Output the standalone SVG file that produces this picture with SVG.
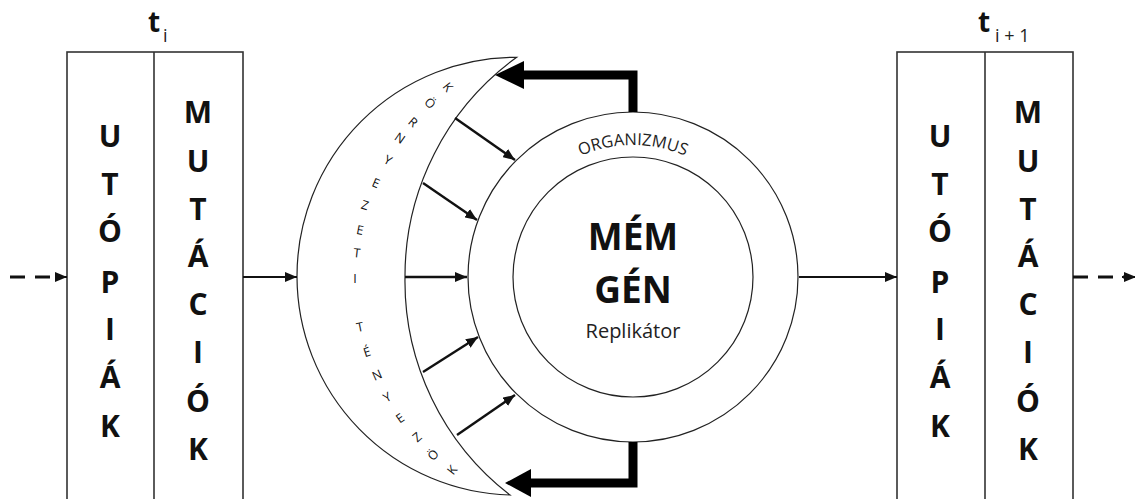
<svg xmlns="http://www.w3.org/2000/svg" width="1135" height="499" viewBox="0 0 1135 499">
<style>
.box{fill:none;stroke:#333;stroke-width:1.6}
.thin{fill:none;stroke:#222;stroke-width:1.2}
.big{font-family:"Open Sans","Liberation Sans",sans-serif;font-weight:bold;font-size:30px;fill:#111;text-anchor:middle}
.cres{font-family:"Open Sans","Liberation Sans",sans-serif;font-size:12.5px;fill:#111;text-anchor:middle;dominant-baseline:central}
.conn{fill:none;stroke:#111;stroke-width:2}
.rad{fill:none;stroke:#111;stroke-width:2.4}
.dash{fill:none;stroke:#111;stroke-width:3;stroke-dasharray:15 10}
.thick{fill:none;stroke:#000;stroke-width:9}
.head{fill:#000}
</style>
<defs>
<marker id="arr" markerUnits="userSpaceOnUse" markerWidth="12" markerHeight="10" refX="12" refY="5" orient="auto">
<path d="M0,0 L12,5 L0,10 z" fill="#111"/>
</marker>
</defs>

<g id="label-ti">
<text x="148" y="32" font-family="Open Sans, Liberation Sans, sans-serif" font-weight="bold" font-size="28" fill="#111">t</text>
<text x="163" y="42" font-family="Open Sans, Liberation Sans, sans-serif" font-size="18" fill="#222">i</text>
</g>
<g id="label-ti1">
<text x="978" y="32" font-family="Open Sans, Liberation Sans, sans-serif" font-weight="bold" font-size="28" fill="#111">t</text>
<text x="995" y="42" font-family="Open Sans, Liberation Sans, sans-serif" font-size="18" fill="#222">i + 1</text>
</g>

<g id="box-left">
<rect class="box" x="67" y="52" width="176" height="470"/>
<line class="box" x1="154" y1="52" x2="154" y2="499"/>
<g class="big">
<text x="110" y="147">U</text>
<text x="110" y="195">T</text>
<text x="110" y="242">Ó</text>
<text x="110" y="293">P</text>
<text x="110" y="340">I</text>
<text x="110" y="388">Á</text>
<text x="110" y="437">K</text>
<text x="198" y="123">M</text>
<text x="198" y="172">U</text>
<text x="198" y="220">T</text>
<text x="198" y="267">Á</text>
<text x="198" y="315">C</text>
<text x="198" y="363">I</text>
<text x="198" y="412">Ó</text>
<text x="198" y="460">K</text>
</g>
</g>

<g id="box-right">
<rect class="box" x="897" y="52" width="176" height="470"/>
<line class="box" x1="985" y1="52" x2="985" y2="499"/>
<g class="big">
<text x="940" y="147">U</text>
<text x="940" y="195">T</text>
<text x="940" y="242">Ó</text>
<text x="940" y="293">P</text>
<text x="940" y="340">I</text>
<text x="940" y="388">Á</text>
<text x="940" y="437">K</text>
<text x="1028" y="123">M</text>
<text x="1028" y="172">U</text>
<text x="1028" y="220">T</text>
<text x="1028" y="267">Á</text>
<text x="1028" y="315">C</text>
<text x="1028" y="363">I</text>
<text x="1028" y="412">Ó</text>
<text x="1028" y="460">K</text>
</g>
</g>

<g id="crescent">
<path class="thin" d="M516.7,57.3 A219,219 0 0 0 297,277 A219,219 0 0 0 510,495 A270,270 0 0 1 405,277 A270,270 0 0 1 516.7,57.3 Z"/>
<g class="cres">
<text transform="translate(448,87) rotate(51.7)">K</text>
<text transform="translate(430,103) rotate(46)">Ö</text>
<text transform="translate(413,122) rotate(40)">R</text>
<text transform="translate(400,138) rotate(35)">N</text>
<text transform="translate(388,160) rotate(29)">Y</text>
<text transform="translate(376,183) rotate(23)">E</text>
<text transform="translate(365,205) rotate(17)">Z</text>
<text transform="translate(360,230) rotate(11)">E</text>
<text transform="translate(357,253) rotate(6)">T</text>
<text transform="translate(355,278) rotate(0)">I</text>
<text transform="translate(360,327) rotate(-11.6)">T</text>
<text transform="translate(367,352) rotate(-17.7)">É</text>
<text transform="translate(377,375) rotate(-23.6)">N</text>
<text transform="translate(387,397) rotate(-29.3)">Y</text>
<text transform="translate(400,418) rotate(-35.1)">E</text>
<text transform="translate(417,437) rotate(-41.1)">Z</text>
<text transform="translate(433,455) rotate(-46.8)">Ö</text>
<text transform="translate(452,470) rotate(-52.6)">K</text>
</g>
</g>

<g id="organizmus">
<circle class="thin" cx="633" cy="277" r="165"/>
<path id="orgpath" d="M501,277 A132,132 0 0 1 765,277" fill="none"/>
<text font-family="Open Sans, Liberation Sans, sans-serif" font-size="16.5" fill="#222"><textPath href="#orgpath" startOffset="50%" text-anchor="middle">ORGANIZMUS</textPath></text>
</g>

<g id="replikator">
<circle class="thin" cx="633" cy="277" r="120"/>
<text x="633" y="250" font-family="Open Sans, Liberation Sans, sans-serif" font-weight="bold" font-size="37" fill="#111" text-anchor="middle">MÉM</text>
<text x="633" y="303" font-family="Open Sans, Liberation Sans, sans-serif" font-weight="bold" font-size="37" fill="#111" text-anchor="middle">GÉN</text>
<text x="633" y="338" font-family="Open Sans, Liberation Sans, sans-serif" font-size="20" fill="#222" text-anchor="middle">Replikátor</text>
</g>

<g id="connectors">
<line class="dash" x1="10" y1="277" x2="55" y2="277"/>
<line class="conn" x1="55" y1="277" x2="67" y2="277" marker-end="url(#arr)"/>
<line class="conn" x1="243" y1="277" x2="297" y2="277" marker-end="url(#arr)"/>
<line class="conn" x1="799" y1="277" x2="897" y2="277" marker-end="url(#arr)"/>
<line class="dash" x1="1073" y1="277" x2="1125" y2="277"/>
<line class="conn" x1="1122" y1="277" x2="1136" y2="277" marker-end="url(#arr)"/>
<line class="rad" x1="455" y1="118" x2="515" y2="160" marker-end="url(#arr)"/>
<line class="rad" x1="423" y1="183" x2="477" y2="220" marker-end="url(#arr)"/>
<line class="rad" x1="405" y1="277" x2="467" y2="277" marker-end="url(#arr)"/>
<line class="rad" x1="423" y1="372" x2="478" y2="337" marker-end="url(#arr)"/>
<line class="rad" x1="457" y1="435" x2="515" y2="395" marker-end="url(#arr)"/>
<path class="thick" d="M633,112 V75 H520"/>
<polygon class="head" points="495,75 524,61 524,89"/>
<path class="thick" d="M633,442 V483 H526"/>
<polygon class="head" points="505,483 531,469 531,497"/>
</g>
</svg>
